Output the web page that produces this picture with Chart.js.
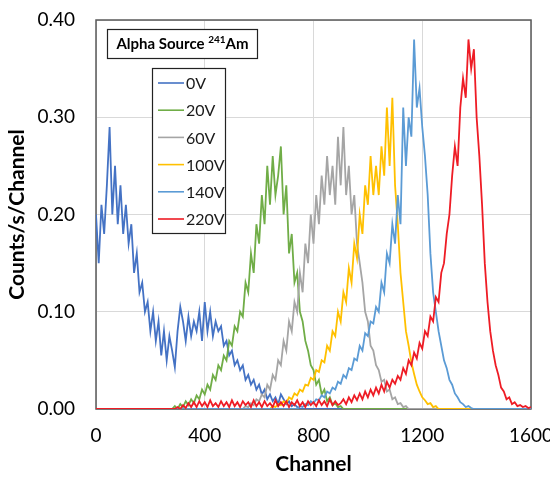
<!DOCTYPE html>
<html>
<head>
<meta charset="utf-8">
<script src="https://cdn.jsdelivr.net/npm/chart.js@4"></script>
<style>
  html, body { margin: 0; padding: 0; background: #fff; }
</style>
</head>
<body>
<canvas id="spectrum" width="550" height="481"></canvas>
<script>
// channel axis (every 10th channel)
const channels = [
  0, 10, 20, 30, 40, 50, 60, 70, 80, 90, 100, 110, 120, 130, 140, 150, 160, 170, 180, 190,
  200, 210, 220, 230, 240, 250, 260, 270, 280, 290, 300, 310, 320, 330, 340, 350, 360, 370, 380, 390,
  400, 410, 420, 430, 440, 450, 460, 470, 480, 490, 500, 510, 520, 530, 540, 550, 560, 570, 580, 590,
  600, 610, 620, 630, 640, 650, 660, 670, 680, 690, 700, 710, 720, 730, 740, 750, 760, 770, 780, 790,
  800, 810, 820, 830, 840, 850, 860, 870, 880, 890, 900, 910, 920, 930, 940, 950, 960, 970, 980, 990,
  1000, 1010, 1020, 1030, 1040, 1050, 1060, 1070, 1080, 1090, 1100, 1110, 1120, 1130, 1140, 1150, 1160, 1170, 1180, 1190,
  1200, 1210, 1220, 1230, 1240, 1250, 1260, 1270, 1280, 1290, 1300, 1310, 1320, 1330, 1340, 1350, 1360, 1370, 1380, 1390,
  1400, 1410, 1420, 1430, 1440, 1450, 1460, 1470, 1480, 1490, 1500, 1510, 1520, 1530, 1540, 1550, 1560, 1570, 1580, 1590,
  1600
];

const v0 = [
  0.20, 0.15, 0.21, 0.18, 0.23, 0.29, 0.20, 0.25, 0.19, 0.23,
  0.18, 0.21, 0.17, 0.19, 0.14, 0.16, 0.12, 0.13, 0.10, 0.11,
  0.08, 0.10, 0.07, 0.09, 0.055, 0.08, 0.05, 0.075, 0.06, 0.043,
  0.08, 0.105, 0.09, 0.07, 0.095, 0.075, 0.09, 0.08, 0.10, 0.07,
  0.11, 0.08, 0.10, 0.075, 0.09, 0.08, 0.085, 0.065, 0.07, 0.055,
  0.06, 0.045, 0.05, 0.04, 0.045, 0.03, 0.035, 0.025, 0.03, 0.02,
  0.025, 0.015, 0.02, 0.01, 0.015, 0.008, 0.012, 0.005, 0.015, 0.01,
  0.005, 0.008, 0.003, 0.005, 0.002, 0, 0, 0, 0, 0,
  0, 0, 0, 0, 0, 0, 0, 0, 0, 0,
  0, 0, 0, 0, 0, 0, 0, 0, 0, 0,
  0, 0, 0, 0, 0, 0, 0, 0, 0, 0,
  0, 0, 0, 0, 0, 0, 0, 0, 0, 0,
  0, 0, 0, 0, 0, 0, 0, 0, 0, 0,
  0, 0, 0, 0, 0, 0, 0, 0, 0, 0,
  0, 0, 0, 0, 0, 0, 0, 0, 0, 0,
  0, 0, 0, 0, 0, 0, 0, 0, 0, 0,
  0
];

const v20 = [
  0, 0, 0, 0, 0, 0, 0, 0, 0, 0,
  0, 0, 0, 0, 0, 0, 0, 0, 0, 0,
  0, 0, 0, 0, 0, 0, 0, 0, 0, 0.003,
  0, 0.005, 0.002, 0.008, 0.004, 0.01, 0.006, 0.014, 0.01, 0.02,
  0.015, 0.025, 0.02, 0.035, 0.03, 0.045, 0.04, 0.055, 0.05, 0.07,
  0.065, 0.085, 0.08, 0.10, 0.095, 0.13, 0.12, 0.16, 0.14, 0.19,
  0.17, 0.22, 0.19, 0.25, 0.21, 0.26, 0.22, 0.24, 0.27, 0.20,
  0.23, 0.16, 0.18, 0.13, 0.14, 0.10, 0.09, 0.07, 0.06, 0.045,
  0.04, 0.025, 0.03, 0.015, 0.02, 0.008, 0.012, 0.004, 0.006, 0.002,
  0.003, 0, 0, 0, 0, 0, 0, 0, 0, 0,
  0, 0, 0, 0, 0, 0, 0, 0, 0, 0,
  0, 0, 0, 0, 0, 0, 0, 0, 0, 0,
  0, 0, 0, 0, 0, 0, 0, 0, 0, 0,
  0, 0, 0, 0, 0, 0, 0, 0, 0, 0,
  0, 0, 0, 0, 0, 0, 0, 0, 0, 0,
  0, 0, 0, 0, 0, 0, 0, 0, 0, 0,
  0
];

const v60 = [
  0, 0, 0, 0, 0, 0, 0, 0, 0, 0,
  0, 0, 0, 0, 0, 0, 0, 0, 0, 0,
  0, 0, 0, 0, 0, 0, 0, 0, 0, 0,
  0, 0, 0, 0, 0, 0, 0, 0, 0, 0,
  0, 0, 0, 0, 0, 0, 0, 0, 0, 0,
  0, 0, 0, 0, 0, 0.003, 0.002, 0.006, 0.004, 0.01,
  0.008, 0.015, 0.012, 0.025, 0.02, 0.035, 0.03, 0.05, 0.045, 0.07,
  0.06, 0.09, 0.08, 0.11, 0.10, 0.14, 0.12, 0.17, 0.15, 0.20,
  0.17, 0.22, 0.19, 0.24, 0.21, 0.26, 0.22, 0.25, 0.21, 0.28,
  0.23, 0.29, 0.22, 0.25, 0.20, 0.22, 0.17, 0.15, 0.13, 0.10,
  0.09, 0.065, 0.06, 0.045, 0.04, 0.028, 0.03, 0.018, 0.02, 0.01,
  0.012, 0.005, 0.006, 0.002, 0.003, 0, 0, 0, 0, 0,
  0, 0, 0, 0, 0, 0, 0, 0, 0, 0,
  0, 0, 0, 0, 0, 0, 0, 0, 0, 0,
  0, 0, 0, 0, 0, 0, 0, 0, 0, 0,
  0, 0, 0, 0, 0, 0, 0, 0, 0, 0,
  0
];

const v100 = [
  0, 0, 0, 0, 0, 0, 0, 0, 0, 0,
  0, 0, 0, 0, 0, 0, 0, 0, 0, 0,
  0, 0, 0, 0, 0, 0, 0, 0, 0, 0,
  0, 0, 0, 0, 0, 0, 0, 0, 0, 0,
  0, 0, 0, 0, 0, 0, 0, 0, 0, 0,
  0, 0, 0, 0, 0, 0, 0, 0, 0, 0,
  0, 0, 0, 0, 0, 0.003, 0.002, 0.005, 0.004, 0.008,
  0.006, 0.012, 0.01, 0.016, 0.014, 0.02, 0.018, 0.025, 0.024, 0.032,
  0.03, 0.04, 0.038, 0.05, 0.048, 0.065, 0.06, 0.08, 0.075, 0.10,
  0.09, 0.12, 0.11, 0.145, 0.13, 0.17, 0.155, 0.20, 0.18, 0.23,
  0.21, 0.26, 0.22, 0.25, 0.22, 0.27, 0.24, 0.31, 0.25, 0.32,
  0.23, 0.19, 0.14, 0.11, 0.08, 0.065, 0.048, 0.036, 0.025, 0.018,
  0.012, 0.009, 0.005, 0.006, 0.002, 0.003, 0, 0, 0, 0,
  0, 0, 0, 0, 0, 0, 0, 0, 0, 0,
  0, 0, 0, 0, 0, 0, 0, 0, 0, 0,
  0, 0, 0, 0, 0, 0, 0, 0, 0, 0,
  0
];

const v140 = [
  0, 0, 0, 0, 0, 0, 0, 0, 0, 0,
  0, 0, 0, 0, 0, 0, 0, 0, 0, 0,
  0, 0, 0, 0, 0, 0, 0, 0, 0, 0,
  0, 0, 0, 0, 0, 0, 0, 0, 0, 0,
  0, 0, 0, 0, 0, 0, 0, 0, 0, 0,
  0, 0, 0, 0, 0, 0, 0, 0, 0, 0,
  0, 0, 0, 0, 0, 0, 0, 0, 0, 0,
  0, 0, 0, 0, 0, 0.003, 0.002, 0.005, 0.004, 0.008,
  0.006, 0.01, 0.009, 0.014, 0.012, 0.018, 0.016, 0.022, 0.02, 0.028,
  0.026, 0.035, 0.032, 0.042, 0.04, 0.052, 0.05, 0.065, 0.06, 0.078,
  0.075, 0.09, 0.088, 0.105, 0.10, 0.13, 0.12, 0.16, 0.15, 0.19,
  0.17, 0.22, 0.19, 0.31, 0.25, 0.30, 0.28, 0.38, 0.31, 0.33,
  0.29, 0.26, 0.22, 0.16, 0.12, 0.10, 0.08, 0.065, 0.05, 0.042,
  0.03, 0.025, 0.016, 0.012, 0.007, 0.005, 0.002, 0.003, 0.001, 0,
  0, 0, 0, 0, 0, 0, 0, 0, 0, 0,
  0, 0, 0, 0, 0, 0, 0, 0, 0, 0,
  0
];

const v220 = [
  0, 0, 0, 0, 0, 0, 0, 0, 0, 0,
  0, 0, 0, 0, 0, 0, 0, 0, 0, 0,
  0, 0, 0, 0, 0, 0, 0, 0, 0, 0,
  0.002, 0, 0.004, 0.001, 0.006, 0.002, 0.007, 0.002, 0.008, 0.003,
  0.007, 0.002, 0.009, 0.003, 0.006, 0.002, 0.008, 0.003, 0.007, 0.002,
  0.009, 0.003, 0.007, 0.002, 0.008, 0.004, 0.007, 0.002, 0.009, 0.003,
  0.007, 0.002, 0.008, 0.003, 0.006, 0.002, 0.009, 0.003, 0.007, 0.003,
  0.008, 0.002, 0.007, 0.004, 0.009, 0.003, 0.007, 0.002, 0.008, 0.004,
  0.007, 0.003, 0.009, 0.004, 0.008, 0.003, 0.01, 0.004, 0.008, 0.004,
  0.006, 0.01, 0.005, 0.012, 0.007, 0.014, 0.009, 0.016, 0.01, 0.018,
  0.012, 0.02, 0.014, 0.022, 0.016, 0.025, 0.018, 0.028, 0.022, 0.03,
  0.026, 0.034, 0.03, 0.042, 0.036, 0.05, 0.045, 0.058, 0.052, 0.068,
  0.062, 0.08, 0.075, 0.095, 0.09, 0.115, 0.11, 0.14, 0.15, 0.18,
  0.20, 0.24, 0.27, 0.25, 0.31, 0.34, 0.32, 0.38, 0.35, 0.37,
  0.30, 0.26, 0.21, 0.15, 0.11, 0.08, 0.06, 0.045, 0.035, 0.022,
  0.018, 0.01, 0.012, 0.005, 0.007, 0.003, 0.004, 0.002, 0.003, 0.001,
  0.002
];

const seriesNames = ['0V', '20V', '60V', '100V', '140V', '220V'];
const seriesValues = [v0, v20, v60, v100, v140, v220];
const seriesColors = ['#4472C4', '#70AD47', '#A5A5A5', '#FFC000', '#5B9BD5', '#EE1C25'];

const yTicks = [0, 0.1, 0.2, 0.3, 0.4];
const xTicks = [0, 400, 800, 1200, 1600];

const font = "Lato, 'Open Sans', sans-serif";

// frame around plot area, drawn under the lines
const framePlugin = {
  id: 'frame',
  beforeDatasetsDraw(chart) {
    const a = chart.chartArea;
    const c = chart.ctx;
    c.save();
    c.strokeStyle = '#595959';
    c.lineWidth = 1.5;
    c.strokeRect(a.left, a.top, a.right - a.left, a.bottom - a.top);
    c.restore();
  }
};

// title box and boxed legend inside the plot
const boxesPlugin = {
  id: 'boxes',
  afterDraw(chart) {
    const c = chart.ctx;
    c.save();

    // title box
    c.fillStyle = '#fff';
    c.fillRect(107.5, 29.5, 150, 29);
    c.strokeStyle = '#222';
    c.lineWidth = 1.2;
    c.strokeRect(107.5, 29.5, 150, 29);

    const bigFont = 'bold 15px ' + font;
    const supFont = 'bold 10px ' + font;
    c.font = bigFont;
    const w1 = c.measureText('Alpha Source ').width;
    const w3 = c.measureText('Am').width;
    c.font = supFont;
    const w2 = c.measureText('241').width;
    let x = 182.5 - (w1 + w2 + w3) / 2;
    c.fillStyle = '#000';
    c.textBaseline = 'alphabetic';
    c.textAlign = 'left';
    c.font = bigFont;
    c.fillText('Alpha Source ', x, 49);
    x += w1;
    c.font = supFont;
    c.fillText('241', x, 43);
    x += w2;
    c.font = bigFont;
    c.fillText('Am', x, 49);

    // legend box
    c.fillStyle = '#fff';
    c.fillRect(152.5, 68.5, 73, 165);
    c.strokeStyle = '#222';
    c.strokeRect(152.5, 68.5, 73, 165);
    c.font = '16px ' + font;
    c.textBaseline = 'middle';
    seriesNames.forEach((name, i) => {
      const y = 83 + i * 27.2;
      c.strokeStyle = seriesColors[i];
      c.lineWidth = 1.6;
      c.beginPath();
      c.moveTo(158, y);
      c.lineTo(184, y);
      c.stroke();
      c.fillStyle = '#1a1a1a';
      c.fillText(name, 186, y + 1);
    });

    c.restore();
  }
};

const datasets = seriesNames.map((name, i) => ({
  label: name,
  data: channels.map((ch, k) => ({ x: ch, y: seriesValues[i][k] })),
  borderColor: seriesColors[i],
  backgroundColor: seriesColors[i],
  borderWidth: 1.8,
  pointRadius: 0,
  tension: 0,
  fill: false,
  order: seriesNames.length - i  // later series drawn on top
}));

const ctx = document.getElementById('spectrum').getContext('2d');
new Chart(ctx, {
  type: 'line',
  data: { datasets: datasets },
  options: {
    responsive: false,
    animation: false,
    layout: { padding: { top: 20, right: 0, left: 0, bottom: 0 } },
    plugins: {
      legend: { display: false },
      tooltip: { enabled: false }
    },
    scales: {
      x: {
        type: 'linear',
        min: 0,
        max: 1600,
        afterBuildTicks: s => { s.ticks = xTicks.map(v => ({ value: v })); },
        ticks: {
          font: { family: font, size: 19 },
          color: '#000',
          padding: 15,
          maxRotation: 0,
          callback: v => String(v)
        },
        grid: { color: '#D9D9D9', lineWidth: 1, drawTicks: false },
        border: { display: false },
        title: {
          display: true,
          text: 'Channel',
          font: { family: font, size: 21, weight: 'bold' },
          color: '#000',
          padding: { top: 0, bottom: 4 }
        },
        afterFit: s => { s.height = 72; s.paddingLeft = 0; s.paddingRight = 19; }
      },
      y: {
        type: 'linear',
        min: 0,
        max: 0.4,
        afterBuildTicks: s => { s.ticks = yTicks.map(v => ({ value: v })); },
        ticks: {
          font: { family: font, size: 19 },
          color: '#000',
          padding: 21,
          callback: v => v.toFixed(2)
        },
        grid: { color: '#D9D9D9', lineWidth: 1, drawTicks: false },
        border: { display: false },
        title: {
          display: true,
          text: 'Counts/s/Channel',
          font: { family: font, size: 21, weight: 'bold' },
          color: '#000',
          padding: { top: 5, bottom: 0 }
        },
        afterFit: s => { s.width = 96; s.paddingTop = 0; s.paddingBottom = 0; }
      }
    }
  },
  plugins: [framePlugin, boxesPlugin]
});
</script>
</body>
</html>
